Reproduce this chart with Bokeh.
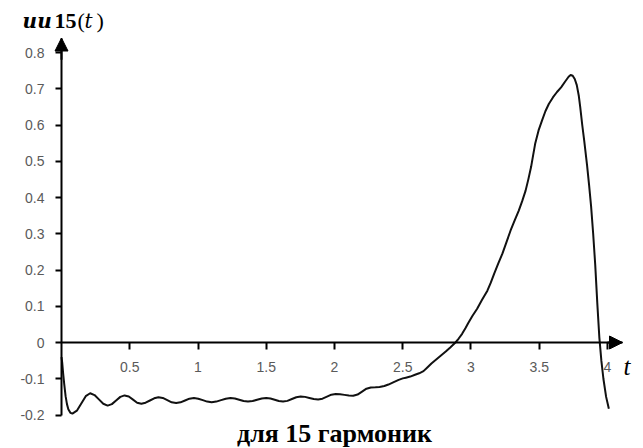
from bokeh.plotting import figure
from bokeh.models import (Range1d, LinearAxis, FixedTicker, Arrow, NormalHead, Label)
from bokeh.embed import file_html
from bokeh.resources import INLINE

# ---- data ----
t_vals = [0.00, 0.005, 0.012, 0.02, 0.03, 0.04, 0.05, 0.065, 0.08,
          0.1125, 0.145, 0.1775, 0.21, 0.242, 0.274, 0.306, 0.338,
          0.369, 0.40, 0.431, 0.462, 0.493, 0.524, 0.554, 0.585,
          0.616, 0.648, 0.679, 0.71, 0.742, 0.775, 0.807, 0.84,
          0.872, 0.905, 0.937, 0.97, 1.002, 1.035, 1.067, 1.10,
          1.134, 1.169, 1.203, 1.238, 1.27, 1.302, 1.334, 1.366,
          1.40, 1.433, 1.467, 1.50, 1.531, 1.562, 1.592, 1.623,
          1.655, 1.688, 1.72, 1.752, 1.784, 1.816, 1.848, 1.88,
          1.912, 1.945, 1.977, 2.009, 2.041, 2.073, 2.105, 2.137,
          2.169, 2.202, 2.234, 2.266, 2.30, 2.33, 2.365, 2.395,
          2.43, 2.47, 2.50, 2.523, 2.555, 2.59, 2.62, 2.652,
          2.68, 2.71, 2.745, 2.78, 2.815, 2.85, 2.886, 2.91,
          2.935, 2.96, 2.98, 3.01, 3.045, 3.08, 3.12, 3.145,
          3.17, 3.20, 3.23, 3.26, 3.29, 3.32, 3.35, 3.375,
          3.40, 3.42, 3.44, 3.455, 3.47, 3.495, 3.52, 3.545,
          3.57, 3.60, 3.63, 3.66, 3.69, 3.715, 3.73, 3.745,
          3.76, 3.775, 3.79, 3.80, 3.815, 3.83, 3.85, 3.865,
          3.88, 3.895, 3.91, 3.925, 3.94, 3.955, 3.97, 3.99, 4.01]
uu15_vals = [-0.040, -0.055, -0.085, -0.115, -0.148, -0.170, -0.184, -0.194, -0.196,
             -0.188, -0.168, -0.148, -0.140, -0.145, -0.157, -0.169, -0.174,
             -0.170, -0.160, -0.150, -0.146, -0.149, -0.1575, -0.166, -0.169,
             -0.166, -0.160, -0.154, -0.151, -0.153, -0.159, -0.165, -0.167,
             -0.165, -0.160, -0.155, -0.153, -0.155, -0.159, -0.163, -0.165,
             -0.163, -0.159, -0.155, -0.153, -0.1545, -0.158, -0.1615, -0.163,
             -0.1615, -0.158, -0.1545, -0.153, -0.1545, -0.158, -0.1615, -0.163,
             -0.161, -0.156, -0.151, -0.149, -0.150, -0.153, -0.156, -0.157,
             -0.155, -0.1495, -0.144, -0.142, -0.1427, -0.1445, -0.1463, -0.147,
             -0.1436, -0.1355, -0.1274, -0.124, -0.1235, -0.1225, -0.120, -0.116,
             -0.110, -0.103, -0.099, -0.097, -0.094, -0.089, -0.085, -0.079,
             -0.069, -0.058, -0.047, -0.036, -0.025, -0.013, 0.000, 0.011,
             0.024, 0.040, 0.054, 0.073, 0.093, 0.117, 0.143, 0.165,
             0.190, 0.218, 0.245, 0.277, 0.309, 0.337, 0.364, 0.390,
             0.419, 0.450, 0.484, 0.516, 0.548, 0.585, 0.612, 0.638,
             0.658, 0.676, 0.691, 0.704, 0.720, 0.733, 0.738, 0.736,
             0.727, 0.710, 0.680, 0.650, 0.600, 0.555, 0.490, 0.435,
             0.375, 0.300, 0.215, 0.110, 0.015, -0.050, -0.100, -0.150, -0.183]

x_ticks = [0.5, 1, 1.5, 2, 2.5, 3, 3.5, 4]
x_tick_labels = ["0.5", "1", "1.5", "2", "2.5", "3", "3.5", "4"]
y_ticks = [-0.2, -0.1, 0, 0.1, 0.2, 0.3, 0.4, 0.5, 0.6, 0.7, 0.8]
y_tick_labels = ["-0.2", "-0.1", "0", "0.1", "0.2", "0.3", "0.4", "0.5", "0.6", "0.7", "0.8"]

y_title_parts = ["uu", "15", "(", "t", ")"]
x_title = "t"
caption = "для 15 гармоник"

# ---- figure: frame fills the whole canvas, axes fixed at zero ----
p = figure(width=643, height=448, output_backend="svg", toolbar_location=None,
           x_range=Range1d(-0.44689, 4.26374), y_range=Range1d(-0.29241, 0.94345),
           x_axis_type=None, y_axis_type=None,
           min_border=0, min_border_left=0, min_border_right=0,
           min_border_top=0, min_border_bottom=0)
p.outline_line_color = None
p.xgrid.visible = False
p.ygrid.visible = False
p.background_fill_color = "white"
p.border_fill_color = "white"

tick_font = "Liberation Sans"
tick_color = "#5a5a5a"

yaxis = LinearAxis(ticker=FixedTicker(ticks=y_ticks), fixed_location=0, bounds=(-0.2, 0.84),
                   major_label_overrides=dict(zip(y_ticks, y_tick_labels)))
yaxis.axis_line_width = 2
yaxis.axis_line_color = "black"
yaxis.major_tick_line_width = 2
yaxis.major_tick_line_color = "black"
yaxis.major_tick_out = 6
yaxis.major_tick_in = 0
yaxis.minor_tick_out = 0
yaxis.minor_tick_in = 0
yaxis.major_label_standoff = 11
yaxis.major_label_text_font = tick_font
yaxis.major_label_text_font_size = "14px"
yaxis.major_label_text_color = tick_color
p.add_layout(yaxis, "left")

xaxis = LinearAxis(ticker=FixedTicker(ticks=x_ticks), fixed_location=0, bounds=(0, 4.11),
                   major_label_overrides=dict(zip(x_ticks, x_tick_labels)))
xaxis.axis_line_width = 2
xaxis.axis_line_color = "black"
xaxis.major_tick_line_width = 2
xaxis.major_tick_line_color = "black"
xaxis.major_tick_out = 7
xaxis.major_tick_in = 0
xaxis.minor_tick_out = 0
xaxis.minor_tick_in = 0
xaxis.major_label_standoff = 12
xaxis.major_label_text_font = tick_font
xaxis.major_label_text_font_size = "14px"
xaxis.major_label_text_color = tick_color
p.add_layout(xaxis, "below")

# axis arrows
p.add_layout(Arrow(end=NormalHead(size=13, fill_color="black", line_color="black", line_width=1),
                   x_start=4.0, y_start=0, x_end=4.11, y_end=0,
                   line_color="black", line_width=2))
p.add_layout(Arrow(end=NormalHead(size=13, fill_color="black", line_color="black", line_width=1),
                   x_start=0, y_start=0.78, x_end=0, y_end=0.84,
                   line_color="black", line_width=2))

# curve
p.line(t_vals, uu15_vals, line_color="#111111", line_width=2, line_join="round")

# texts
title_x = [-0.285, -0.0513, 0.117, 0.168, 0.256]
title_fonts = ["DejaVu Serif", "Liberation Serif", "Liberation Serif", "DejaVu Serif", "Liberation Serif"]
title_styles = ["bold italic", "bold", "normal", "italic", "normal"]
title_sizes = ["20px", "22px", "22px", "20px", "22px"]
for txt, tx, fn, st, sz in zip(y_title_parts, title_x, title_fonts, title_styles, title_sizes):
    p.add_layout(Label(x=tx, y=0.888, text=txt, text_font=fn, text_font_size=sz,
                       text_font_style=st, text_color="black",
                       text_align="left", text_baseline="alphabetic"))

p.add_layout(Label(x=4.117, y=-0.066, text=x_title, text_font="Liberation Serif",
                   text_font_size="25px", text_font_style="italic", text_color="black",
                   text_align="left", text_baseline="alphabetic"))

p.add_layout(Label(x=2.0, y=-0.251, text=caption, text_font="Liberation Serif",
                   text_font_size="26px", text_font_style="bold", text_color="black",
                   text_align="center", text_baseline="alphabetic"))

open("out.html", "w").write(file_html(p, INLINE))
